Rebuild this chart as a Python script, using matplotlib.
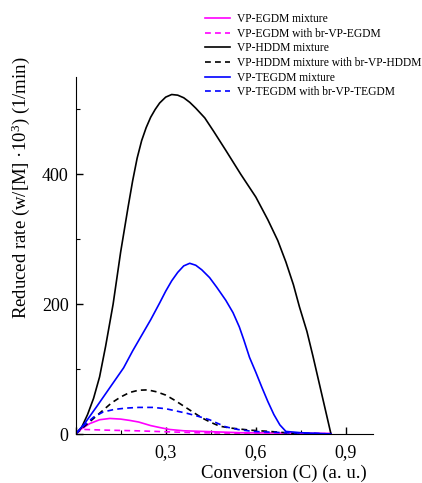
import matplotlib
matplotlib.use("Agg")
import matplotlib.pyplot as plt
from matplotlib.ticker import MultipleLocator, FuncFormatter

plt.rcParams['font.family'] = ['Liberation Serif', 'DejaVu Serif']
plt.rcParams['mathtext.fontset'] = 'custom'
plt.rcParams['mathtext.rm'] = 'Liberation Serif'
plt.rcParams['mathtext.it'] = 'Liberation Serif:italic'

# ---- data ----
hddm_c = [0, 0.02, 0.04, 0.06, 0.08, 0.10, 0.125, 0.15, 0.175, 0.19, 0.205, 0.22, 0.235, 0.25, 0.265,
          0.28, 0.30, 0.32, 0.34, 0.36, 0.38, 0.40, 0.43, 0.46, 0.50, 0.55, 0.60, 0.64, 0.673, 0.70,
          0.725, 0.745, 0.77, 0.79, 0.81, 0.83, 0.85]
hddm_v = [0, 10, 30, 55, 88, 135, 200, 280, 350, 390, 425, 452, 472, 488, 500,
          510, 519, 523, 522, 518, 511, 502, 487, 466, 437, 400, 365, 330, 298, 265,
          230, 196, 158, 120, 80, 40, 0]

tegdm_c = [0, 0.03, 0.07, 0.10, 0.136, 0.16, 0.19, 0.22, 0.25, 0.28, 0.30, 0.32, 0.34, 0.36, 0.38,
           0.40, 0.42, 0.446, 0.47, 0.50, 0.524, 0.545, 0.56, 0.579, 0.60, 0.62, 0.64, 0.66, 0.68,
           0.70, 0.75, 0.80, 0.85]
tegdm_v = [0, 16, 42, 62, 86, 102, 128, 152, 176, 202, 220, 236, 249, 259, 263,
           260, 253, 241, 226, 206, 187, 165, 145, 118, 95, 72, 50, 30, 14,
           4, 2, 1, 0]

hddm_br_c = [0, 0.03, 0.06, 0.09, 0.12, 0.15, 0.18, 0.21, 0.24, 0.27, 0.30, 0.33, 0.36, 0.39, 0.42,
             0.45, 0.48, 0.52, 0.58, 0.645, 0.70, 0.75]
hddm_br_v = [0, 12, 24, 36, 48, 57, 64, 67.5, 68, 65, 60, 52, 43, 34, 25,
             18, 12, 9, 6, 4, 2, 0]

tegdm_br_c = [0, 0.03, 0.06, 0.092, 0.13, 0.17, 0.21, 0.258, 0.30, 0.34, 0.37, 0.41, 0.446, 0.47,
              0.50, 0.54, 0.59, 0.70, 0.80, 0.85]
tegdm_br_v = [0, 14, 26, 34, 38, 40, 41, 41, 39, 35, 32, 27, 22, 17,
              11, 7, 4, 2, 1, 0]

egdm_c = [0, 0.02, 0.047, 0.08, 0.114, 0.15, 0.18, 0.21, 0.25, 0.28, 0.313, 0.36, 0.424, 0.55, 0.7, 0.85]
egdm_v = [0, 8, 16, 22, 24, 23, 21, 18.5, 13, 10, 7, 5, 4, 2, 1.5, 1]

egdm_br_c = [0, 0.015, 0.03, 0.1, 0.2, 0.3, 0.4, 0.6, 0.8]
egdm_br_v = [0, 5, 7, 6, 5, 3.5, 2, 1, 0.5]

labels = ["VP-EGDM mixture", "VP-EGDM with br-VP-EGDM", "VP-HDDM mixture",
          "VP-HDDM mixture with br-VP-HDDM", "VP-TEGDM mixture", "VP-TEGDM with br-VP-TEGDM"]

fig = plt.figure(figsize=(4.22, 4.83), dpi=100)
ax = fig.add_axes([0.179, 0.1014, 0.705, 0.7392])

dash = (0, (3.5, 2.5))
lines = []
lines += ax.plot(egdm_c, egdm_v, color='#ff00ff', lw=1.2, label=labels[0])
lines += ax.plot(egdm_br_c, egdm_br_v, color='#ff00ff', lw=1.2, ls=dash, label=labels[1])
lines += ax.plot(hddm_c, hddm_v, color='black', lw=1.2, label=labels[2])
lines += ax.plot(hddm_br_c, hddm_br_v, color='black', lw=1.2, ls=dash, label=labels[3])
lines += ax.plot(tegdm_c, tegdm_v, color='#0000ff', lw=1.2, label=labels[4])
lines += ax.plot(tegdm_br_c, tegdm_br_v, color='#0000ff', lw=1.2, ls=dash, label=labels[5])

ax.set_xlim(0, 0.99)
ax.set_ylim(0, 550)
ax.spines['top'].set_visible(False)
ax.spines['right'].set_visible(False)
ax.xaxis.set_major_locator(MultipleLocator(0.3))
ax.xaxis.set_minor_locator(MultipleLocator(0.15))
ax.yaxis.set_major_locator(MultipleLocator(200))
ax.yaxis.set_minor_locator(MultipleLocator(100))
ax.xaxis.set_major_formatter(FuncFormatter(lambda v, p: "" if abs(v) < 1e-9 else f"{v:.1f}".replace('.', ',')))
ax.yaxis.set_major_formatter(FuncFormatter(lambda v, p: f"{v:.0f}"))
ax.tick_params(which='both', direction='in', labelsize=13)
ax.tick_params(which='major', length=5, width=1)
ax.tick_params(which='minor', length=3, width=0.8)
ax.tick_params(axis='x', pad=7)
ax.tick_params(axis='y', pad=5)

ax.set_xlabel("Conversion (C) (a. u.)", fontsize=13.5)
ax.xaxis.set_label_coords(0.70, -0.085)
ax.set_ylabel("Reduced rate (w/[M] ·10$^3$) (1/min)", fontsize=13.5)
ax.yaxis.set_label_coords(-0.147, 0.69)

fig.legend(handles=lines, loc='upper left', bbox_to_anchor=(0.486, 0.973), frameon=False,
           fontsize=8.3, handlelength=2.2, handletextpad=0.6, labelspacing=0.23,
           borderpad=0, borderaxespad=0)

fig.savefig("out.png", dpi=100)
